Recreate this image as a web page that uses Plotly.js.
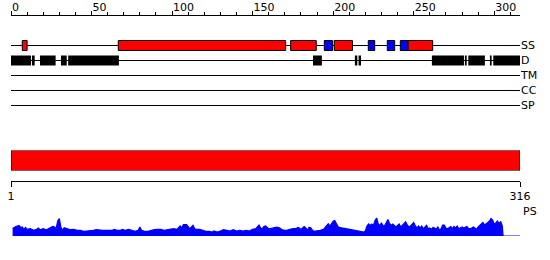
<!DOCTYPE html>
<html>
<head>
<meta charset="utf-8">
<script src="https://cdn.plot.ly/plotly-3.0.1.min.js"></script>
<style>html,body{margin:0;padding:0;background:#fff;}#chart{width:550px;height:260px;}</style>
</head>
<body>
<div id="chart"></div>
<script>
// ---------- data ----------
const proteinLength = 316;
const trackNames = ['SS', 'D', 'TM', 'CC', 'SP'];

// secondary structure: helices (red) and strands (blue)
const helixStart = [7, 66.6, 173.6, 200.7, 246.4];
const helixEnd   = [10, 170.5, 189.5, 212, 261.8];
const strandStart = [194.5, 221.8, 233.6, 241.7];
const strandEnd   = [199.7, 225.8, 238.2, 246.4];

// disorder segments (black)
const disStart = [0, 13, 18, 31, 35.5, 187.5, 213.5, 215.8, 261.3, 281.8, 283.9, 297.3, 299.4];
const disEnd   = [12.4, 14.7, 27.7, 34.6, 67, 193, 215, 217.3, 281.2, 282.9, 294.2, 298.4, 316];

// domain bar
const domainStart = [0];
const domainEnd = [316];
const scaleTickVals = [0, 316];
const scaleTickText = ['1', '316'];

// PS profile
const psPos = [1,3,5,6,7,8,9,10,12,13,14,16,17,18,20,22,24,26,27,28,29,30,31,32,33,35,37,39,41,43,45,47,49,51,53,55,57,59,61,63,64,66,68,69,71,73,75,77,79,80,81,83,85,87,89,91,93,95,97,99,101,103,105,106,107,109,110,111,113,114,115,117,119,121,123,125,126,128,130,132,134,136,138,140,142,144,146,148,150,152,154,155,156,157,158,159,160,161,162,163,164,165,166,167,168,169,170,171,172,173,174,175,176,177,178,179,180,181,182,183,184,185,186,187,188,189,190,191,192,193,194,195,196,197,198,199,200,201,202,203,204,205,206,207,208,209,210,211,212,213,214,215,216,217,218,219,220,221,222,223,224,225,226,227,228,229,230,231,232,233,234,235,236,237,238,239,240,241,242,243,244,245,246,247,248,249,250,251,252,253,254,255,256,257,258,259,260,261,262,263,264,265,266,267,268,269,270,271,272,273,274,275,276,277,278,279,280,281,282,283,284,285,286,287,288,289,290,291,292,293,294,295,296,297,298,299,300,301,302,303,304,305,305.5,316];
const psVal = [7.5,9.5,10.5,8.5,9,6.7,8.5,6.7,7.3,6.7,5.7,6.7,8,6.3,7.3,6.3,8.3,9.7,9,7.3,15,17.5,8.7,5.7,8.3,7.3,6.3,6.7,5.7,5.7,4.7,5,5,5.7,6.3,5.7,5.7,5.7,5.7,5.7,6.7,5.7,5.7,6.7,5.7,6.7,5.7,4.7,5.7,9,5.7,4.7,4.7,5.7,6.3,6.7,6.7,5.7,6.3,6.7,7.3,6.7,10,8,11.3,11.3,9,7.3,10.7,7.3,6.7,6.7,5.7,4.7,4.7,4,5,4,5,6.3,5.7,5,6.3,5,5.7,5,5.7,5,6.7,7.3,11,8,7.3,9.5,10,9,7.3,7.3,7.7,8,8.7,9,8.5,8,6.5,5.7,5.7,5.7,6.3,6.7,7,7.3,7.3,7.3,8.5,8,6.5,8,9.5,8,5.7,8.7,8.5,6,4.7,5,5,5.5,5.7,6.3,6.7,8.5,10.7,12.3,10,12.3,14.7,15.5,12,9.5,8.3,8.3,8,7.7,7.3,7,6.7,6.7,6.3,6.3,6,5.7,5,4.7,4.3,4,5,10,12,10.5,12,10.5,15.5,18,12,10.5,13.3,10,10.5,14,16.5,12.5,10.5,12,10.5,9,10.5,12,9,10.5,13,14.3,11,9,10,12,13.5,10,8,10,8,10,7.3,9,10.7,7.3,8,6.7,8.5,8,6.7,9,6,7.3,11,11,8,7.3,8.5,9.5,7.3,9.5,8,10,7.3,8.5,9,8,8.5,9.5,7.7,7.3,8,9,8,6.7,9,10.5,11.5,13.5,11,12,13.5,15,17.5,16,12,13,15,12.5,14.5,10,0,0];

// ---------- helpers ----------
const H = 260, W = 550;
const py = p => 1 - p / H;
const xDomain = [11 / W, 520 / W];
const FONT = {family: 'DejaVu Sans, sans-serif', size: 11, color: '#000'};

function segBars(starts, ends, track, color, lineW, width, xa, ya) {
  return {
    type: 'bar', orientation: 'h',
    base: starts,
    x: starts.map((s, i) => ends[i] - s),
    y: starts.map(() => track),
    width: width,
    marker: {color: color, line: {color: '#000', width: lineW}},
    xaxis: xa || 'x', yaxis: ya || 'y',
    hoverinfo: 'skip', showlegend: false
  };
}

const traces = [];
// track lines (thin bars, drawn below boxes)
trackNames.forEach(t => {
  traces.push(segBars([0], [proteinLength], t, '#000', 0, 1 / 15));
});
traces.push(segBars(helixStart, helixEnd, 'SS', '#ff0000', 1, 10 / 15));
traces.push(segBars(strandStart, strandEnd, 'SS', '#0000ff', 1, 10 / 15));
traces.push(segBars(disStart, disEnd, 'D', '#000', 0, 10 / 15));
// domain bar
traces.push(segBars(domainStart, domainEnd, 0, '#ff0000', 1, 1, 'x2', 'y2'));
// PS profile
traces.push({
  type: 'scatter', mode: 'lines', x: psPos, y: psVal,
  fill: 'tozeroy', fillcolor: '#0000ff',
  line: {color: '#0000ff', width: 1.2},
  xaxis: 'x3', yaxis: 'y3', hoverinfo: 'skip', showlegend: false
});

const layout = {
  width: W, height: H,
  margin: {l: 0, r: 0, t: 0, b: 0, pad: 0},
  paper_bgcolor: '#fff', plot_bgcolor: 'rgba(0,0,0,0)',
  font: FONT,
  showlegend: false,
  barmode: 'overlay',
  xaxis: {
    domain: xDomain, range: [0, proteinLength],
    side: 'top', anchor: 'free', position: py(15),
    showline: true, linecolor: '#000', linewidth: 1,
    ticks: 'outside', ticklen: 4, tickwidth: 1, tickcolor: '#000',
    tick0: 0, dtick: 50, ticklabelposition: 'outside right',
    tickfont: FONT,
    minor: {dtick: 10, tick0: 0, ticks: 'outside', ticklen: 3, tickcolor: '#000', showgrid: false},
    showgrid: false, zeroline: false, fixedrange: true
  },
  yaxis: {
    domain: [py(113), py(38)],
    type: 'category', categoryorder: 'array', categoryarray: trackNames,
    range: [4.5, -0.5], side: 'right', anchor: 'x',
    showline: false, ticks: '', showgrid: false, zeroline: false,
    tickfont: FONT, ticklabelstandoff: 0, fixedrange: true
  },
  xaxis2: {
    domain: xDomain, range: [0, proteinLength],
    anchor: 'free', position: py(181), side: 'bottom',
    showline: true, linecolor: '#000', linewidth: 1,
    ticks: 'outside', ticklen: 5, tickcolor: '#000',
    tickmode: 'array', tickvals: scaleTickVals, ticktext: scaleTickText,
    tickfont: FONT, showgrid: false, zeroline: false, fixedrange: true
  },
  yaxis2: {
    domain: [py(170.5), py(150.5)], range: [-0.5, 0.5], anchor: 'x2',
    visible: false, fixedrange: true
  },
  xaxis3: {
    domain: xDomain, range: [0, proteinLength], anchor: 'y3',
    visible: false, fixedrange: true
  },
  yaxis3: {
    domain: [py(236), py(211)], range: [0, 25], anchor: 'x3',
    visible: false, fixedrange: true
  },
  annotations: [{
    text: 'PS', xref: 'paper', yref: 'paper', x: 521 / W, y: py(211),
    xanchor: 'left', yanchor: 'middle', showarrow: false, font: FONT
  }]
};

Plotly.newPlot('chart', traces, layout, {staticPlot: true, displayModeBar: false});
</script>
</body>
</html>
